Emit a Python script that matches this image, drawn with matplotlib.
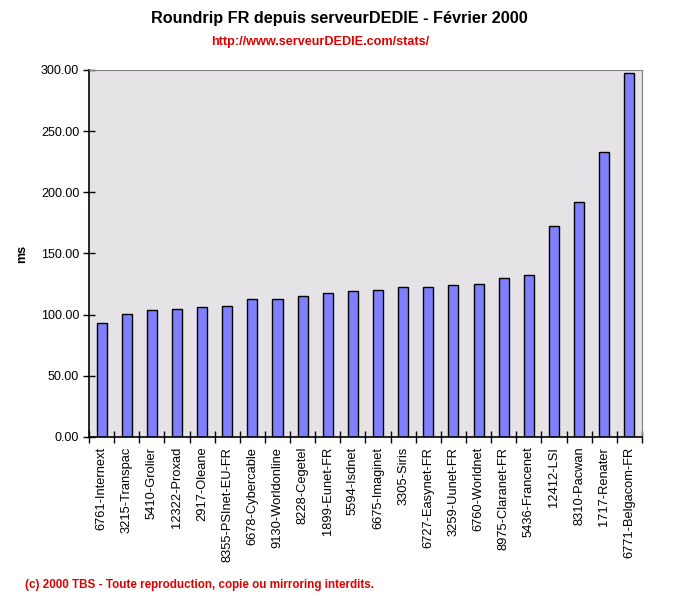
import matplotlib.pyplot as plt
import numpy as np

plt.rcParams['font.family'] = ['Liberation Sans', 'DejaVu Sans']

# Données : temps de roundrip (ms) par AS
reseaux = ['6761-Internext', '3215-Transpac', '5410-Grolier', '12322-Proxad',
           '2917-Oleane', '8355-PSInet-EU-FR', '6678-Cybercable', '9130-Worldonline',
           '8228-Cegetel', '1899-Eunet-FR', '5594-Isdnet', '6675-Imaginet',
           '3305-Siris', '6727-Easynet-FR', '3259-Uunet-FR', '6760-Worldnet',
           '8975-Claranet-FR', '5436-Francenet', '12412-LSI', '8310-Pacwan',
           '1717-Renater', '6771-Belgacom-FR']
roundtrip_ms = [93.0, 100.3, 103.8, 104.6, 106.0, 106.8, 112.8, 112.8,
                115.0, 117.5, 119.3, 120.2, 122.4, 122.4, 124.0, 124.8,
                129.7, 132.2, 172.5, 191.8, 232.7, 297.3]
y_ticks = [0, 50, 100, 150, 200, 250, 300]

fig = plt.figure(figsize=(6.74, 5.96), dpi=100)
ax = fig.add_axes([0.132, 0.2668, 0.8205, 0.6158])

x = np.arange(len(reseaux))
ax.bar(x, roundtrip_ms, width=0.4, color='#8080FF', edgecolor='black', linewidth=1.0)

ax.set_facecolor('#E6E3E6')
ax.set_xlim(-0.5, len(reseaux) - 0.5)
ax.set_ylim(0, 300)
ax.set_yticks(y_ticks)
ax.set_yticklabels([f'{v:.2f}' for v in y_ticks], fontsize=9)
ax.set_xticks(x)
ax.set_xticklabels(reseaux, rotation=90, fontsize=9.3)
ax.tick_params(axis='x', length=0, pad=7)
ax.set_xticks(np.arange(-0.5, len(reseaux), 1), minor=True)
ax.tick_params(axis='x', which='minor', length=8, direction='inout', width=1)
ax.tick_params(axis='y', length=8, width=1, direction='inout', pad=3)

for s in ['top', 'right']:
    ax.spines[s].set_color('#808080')
for s in ['left', 'bottom']:
    ax.spines[s].set_color('black')
    ax.spines[s].set_linewidth(1.2)

ax.set_ylabel('ms', fontsize=9, fontweight='bold')
ax.yaxis.set_label_coords(-0.110, 0.5)

fig.text(0.503, 0.969, 'Roundrip FR depuis serveurDEDIE - Février 2000',
         ha='center', va='center', fontsize=11.7, fontweight='bold')
fig.text(0.475, 0.930, 'http://www.serveurDEDIE.com/stats/',
         ha='center', va='center', fontsize=9.1, fontweight='bold', color='#E00000')
fig.text(0.037, 0.018, '(c) 2000 TBS - Toute reproduction, copie ou mirroring interdits.',
         ha='left', va='center', fontsize=8.4, fontweight='bold', color='#E00000')

plt.savefig('out.png', dpi=100)
